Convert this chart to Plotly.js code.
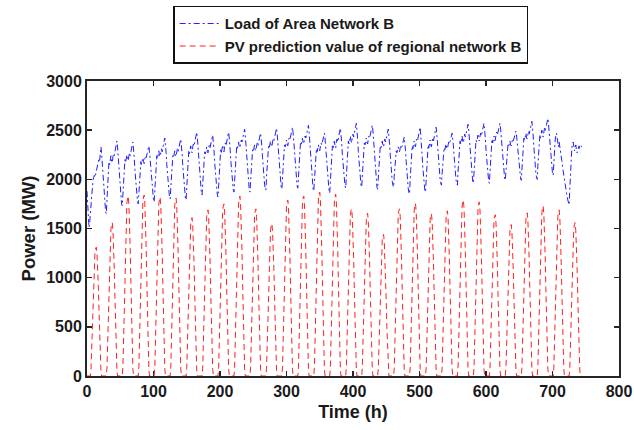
<!DOCTYPE html>
<html>
<head>
<meta charset="utf-8">
<script src="https://cdn.plot.ly/plotly-3.0.1.min.js"></script>
<style>html,body{margin:0;padding:0;background:#fff;}#chart{width:634px;height:430px;}</style>
</head>
<body>
<div id="chart"></div>
<script>
// Series names
const seriesNames = ["Load of Area Network B", "PV prediction value of regional network B"];

// Hourly load (MW), one row per day (hours 0..23), plus the final hour 744
const loadByDay = [
[1880,1700,1560,1510,1560,1650,1760,1860,1940,1990,2020,2040,2020,2050,2080,2100,2130,2180,2210,2190,2260,2330,2260,2160],
[2030,1910,1800,1720,1670,1650,1810,1980,2110,2180,2150,2210,2240,2180,2170,2230,2260,2240,2290,2320,2350,2390,2320,2230],
[2100,1980,1880,1800,1750,1730,1870,2020,2130,2200,2170,2220,2250,2200,2190,2240,2270,2240,2290,2320,2350,2380,2320,2220],
[2100,1990,1890,1810,1770,1750,1880,2020,2120,2180,2150,2200,2220,2180,2160,2210,2240,2220,2260,2280,2310,2340,2280,2200],
[2090,1990,1900,1830,1790,1770,1910,2060,2170,2240,2210,2260,2290,2240,2230,2280,2310,2280,2330,2360,2390,2420,2360,2270],
[2150,2040,1940,1860,1820,1800,1930,2080,2180,2240,2220,2260,2290,2240,2230,2280,2310,2280,2330,2350,2380,2410,2350,2260],
[2140,2030,1930,1850,1810,1790,1940,2100,2220,2290,2260,2310,2340,2290,2270,2330,2360,2340,2380,2410,2450,2480,2420,2320],
[2200,2080,1980,1900,1860,1840,1970,2120,2220,2280,2260,2300,2330,2280,2270,2320,2350,2320,2370,2390,2420,2450,2390,2290],
[2170,2060,1960,1880,1840,1820,1970,2120,2230,2300,2270,2320,2350,2300,2280,2340,2370,2340,2390,2410,2450,2480,2420,2330],
[2210,2100,2000,1930,1890,1870,2010,2160,2270,2330,2310,2360,2380,2330,2320,2370,2400,2380,2420,2450,2480,2510,2450,2350],
[2230,2110,2010,1930,1890,1870,2000,2140,2240,2300,2280,2330,2350,2300,2290,2340,2370,2340,2390,2410,2440,2470,2410,2330],
[2220,2110,2020,1950,1910,1890,2030,2170,2280,2340,2320,2370,2390,2340,2330,2380,2410,2390,2430,2460,2490,2520,2460,2370],
[2250,2140,2040,1960,1920,1900,2040,2180,2290,2350,2330,2380,2400,2350,2340,2390,2420,2400,2440,2470,2500,2530,2470,2380],
[2260,2150,2050,1970,1930,1910,2050,2200,2310,2370,2350,2400,2420,2370,2360,2410,2440,2420,2460,2490,2520,2550,2480,2380],
[2260,2140,2030,1950,1900,1880,2010,2150,2250,2310,2280,2330,2350,2310,2290,2340,2370,2350,2390,2410,2440,2470,2410,2320],
[2200,2090,1990,1920,1880,1860,2010,2160,2270,2340,2310,2360,2390,2340,2320,2380,2410,2380,2430,2450,2490,2520,2460,2370],
[2250,2140,2040,1970,1930,1910,2060,2210,2320,2390,2360,2410,2440,2390,2370,2430,2460,2430,2480,2500,2540,2570,2510,2410],
[2280,2170,2060,1990,1940,1920,2060,2200,2310,2370,2350,2400,2420,2370,2360,2410,2440,2420,2460,2490,2520,2550,2490,2390],
[2260,2150,2040,1970,1920,1900,2030,2180,2280,2340,2320,2360,2390,2340,2330,2380,2410,2380,2430,2450,2480,2510,2450,2360],
[2250,2140,2050,1980,1940,1920,2030,2150,2240,2290,2270,2310,2330,2290,2280,2320,2340,2320,2360,2380,2400,2430,2370,2290],
[2180,2070,1980,1910,1870,1850,2000,2160,2270,2340,2310,2370,2390,2340,2330,2380,2410,2390,2440,2460,2500,2530,2460,2370],
[2240,2120,2020,1940,1890,1870,2020,2170,2280,2350,2320,2370,2400,2350,2330,2390,2420,2390,2440,2460,2500,2530,2470,2380],
[2270,2160,2070,2000,1960,1940,2060,2180,2270,2320,2300,2340,2360,2320,2310,2350,2380,2360,2400,2420,2440,2470,2420,2340],
[2240,2140,2060,1990,1960,1940,2080,2220,2320,2390,2360,2410,2440,2390,2370,2420,2460,2430,2470,2500,2530,2560,2500,2410],
[2300,2190,2090,2020,1980,1960,2090,2240,2340,2400,2380,2420,2450,2400,2390,2440,2470,2440,2490,2510,2540,2570,2510,2420],
[2300,2190,2090,2020,1980,1960,2100,2230,2350,2410,2370,2430,2440,2390,2400,2450,2480,2450,2480,2520,2540,2570,2510,2430],
[2320,2210,2120,2050,2010,1990,2100,2220,2300,2350,2330,2370,2390,2350,2340,2380,2410,2390,2420,2440,2470,2490,2440,2370],
[2270,2180,2100,2040,2010,1990,2120,2260,2360,2420,2400,2450,2470,2420,2410,2460,2490,2460,2510,2530,2560,2590,2530,2440],
[2330,2220,2130,2060,2020,2000,2140,2280,2380,2450,2420,2470,2500,2450,2430,2480,2520,2490,2530,2560,2590,2620,2560,2480],
[2370,2260,2170,2100,2060,2040,2200,2330,2400,2440,2470,2420,2350,2330,2380,2340,2300,2250,2190,2130,2080,2020,1970,1920],
[1880,1850,1820,1790,1760,1740,1900,2080,2220,2310,2360,2380,2340,2290,2320,2350,2300,2270,2300,2330,2340,2310,2330,2340],
[2330]
];

// Hourly PV prediction (MW), one row per day (hours 0..23), plus the final hour 744
const pvByDay = [
[0,0,0,0,0,0,70,260,520,790,1000,1150,1260,1300,1310,1240,1110,920,680,430,210,50,0,0],
[0,0,0,0,0,0,80,310,620,940,1190,1370,1500,1540,1560,1480,1330,1090,810,510,250,60,0,0],
[0,0,0,0,0,0,90,370,730,1100,1390,1610,1760,1810,1830,1740,1560,1280,950,600,290,70,0,0],
[0,0,0,0,0,0,90,370,740,1100,1400,1620,1770,1820,1840,1750,1560,1290,960,610,290,70,0,0],
[0,0,0,0,0,0,90,360,730,1090,1380,1600,1750,1800,1820,1730,1550,1270,950,600,290,70,0,0],
[0,0,0,0,0,0,90,360,720,1090,1380,1590,1740,1790,1810,1720,1540,1270,940,600,290,70,0,0],
[0,0,0,0,0,0,80,320,640,970,1220,1420,1550,1590,1610,1530,1370,1130,840,530,260,60,0,0],
[0,0,0,0,0,0,80,340,680,1010,1280,1490,1620,1670,1690,1610,1440,1180,880,560,270,70,0,0],
[0,0,0,0,0,0,90,350,700,1050,1330,1540,1680,1730,1750,1660,1490,1230,910,580,280,70,0,0],
[0,0,0,0,0,0,90,370,730,1100,1390,1610,1750,1810,1830,1730,1550,1280,950,600,290,70,0,0],
[0,0,0,0,0,0,90,340,680,1020,1290,1500,1630,1680,1700,1620,1450,1190,880,560,270,70,0,0],
[0,0,0,0,0,0,80,310,620,930,1180,1360,1490,1530,1550,1470,1320,1090,810,510,250,60,0,0],
[0,0,0,0,0,0,90,360,720,1070,1360,1580,1720,1770,1790,1700,1520,1250,930,590,290,70,0,0],
[0,0,0,0,0,0,90,360,730,1100,1390,1610,1760,1810,1830,1740,1560,1280,950,600,290,70,0,0],
[0,0,0,0,0,0,90,370,750,1120,1420,1650,1800,1850,1870,1780,1590,1310,970,620,300,70,0,0],
[0,0,0,0,0,0,90,370,740,1110,1410,1630,1780,1830,1850,1760,1570,1300,960,610,300,70,0,0],
[0,0,0,0,0,0,90,340,680,1020,1290,1490,1630,1680,1700,1610,1440,1190,880,560,270,70,0,0],
[0,0,0,0,0,0,80,330,660,990,1260,1460,1590,1640,1655,1570,1410,1160,860,550,260,70,0,0],
[0,0,0,0,0,0,70,290,580,860,1090,1270,1380,1430,1440,1370,1220,1010,750,480,230,60,0,0],
[0,0,0,0,0,0,80,340,680,1020,1290,1500,1630,1680,1700,1620,1450,1190,880,560,270,70,0,0],
[0,0,0,0,0,0,90,350,700,1050,1330,1540,1680,1740,1755,1670,1490,1230,910,580,280,70,0,0],
[0,0,0,0,0,0,80,330,660,990,1260,1450,1590,1640,1650,1570,1400,1160,860,540,260,70,0,0],
[0,0,0,0,0,0,80,340,670,1010,1280,1480,1610,1660,1680,1600,1430,1180,870,550,270,70,0,0],
[0,0,0,0,0,0,90,360,720,1070,1360,1580,1720,1770,1790,1700,1520,1250,930,590,290,70,0,0],
[0,0,0,0,0,0,90,350,710,1060,1350,1560,1700,1750,1770,1680,1500,1240,920,580,280,70,0,0],
[0,0,0,0,0,0,80,330,660,980,1250,1440,1570,1620,1640,1560,1390,1150,850,540,260,70,0,0],
[0,0,0,0,0,0,80,310,620,920,1170,1360,1480,1520,1540,1460,1310,1080,800,510,250,60,0,0],
[0,0,0,0,0,0,80,330,660,1000,1260,1460,1590,1640,1660,1580,1410,1160,860,550,270,70,0,0],
[0,0,0,0,0,0,90,350,690,1040,1310,1520,1660,1710,1730,1640,1470,1210,900,570,280,70,0,0],
[0,0,0,0,0,0,80,340,680,1010,1280,1490,1620,1670,1690,1610,1440,1180,880,560,270,70,0,0],
[0,0,0,0,0,0,80,310,620,940,1190,1370,1500,1540,1560,1480,1330,1090,810,510,250,60,0,0],
[0]
];

// Axis ticks
const xTicks = [0,100,200,300,400,500,600,700,800];
const yTicks = [0,500,1000,1500,2000,2500,3000];

const loadValues = loadByDay.flat();
const pvValues = pvByDay.flat();
const hours = loadValues.map((_, i) => i);

const fontFam = '"Liberation Sans", Arial, sans-serif';
const txtColor = '#1a1a1a';
const axCommon = {
  showgrid: false, zeroline: false, showline: true, mirror: 'ticks',
  linecolor: '#262626', linewidth: 2, ticks: 'inside', ticklen: 5,
  tickwidth: 1.5, tickcolor: '#262626', automargin: false,
  tickfont: {family: fontFam, size: 16, color: txtColor, weight: 'bold'}
};

const traces = [
  {x: hours, y: loadValues, type: 'scatter', mode: 'lines', name: seriesNames[0],
   line: {color: '#1f1fff', width: 1, dash: '6px,3px,2px,3px'}},
  {x: hours, y: pvValues, type: 'scatter', mode: 'lines', name: seriesNames[1],
   line: {color: '#ff2020', width: 1, dash: '6px,4px'}}
];

const layout = {
  width: 634, height: 430,
  margin: {l: 87, r: 15, t: 81, b: 54, autoexpand: false},
  paper_bgcolor: '#fff', plot_bgcolor: '#fff',
  showlegend: true,
  legend: {x: 0.162, y: 1.255, xanchor: 'left', yanchor: 'top',
    bordercolor: '#111', borderwidth: 1.5, bgcolor: '#fff',
    font: {family: fontFam, size: 15, color: txtColor, weight: 'bold'},
    tracegroupgap: 0, itemwidth: 40},
  xaxis: Object.assign({}, axCommon, {range: [0, 800], tickvals: xTicks,
    ticktext: xTicks.map(String),
    title: {text: 'Time (h)', standoff: 6, font: {family: fontFam, size: 18, color: txtColor, weight: 'bold'}}}),
  yaxis: Object.assign({}, axCommon, {range: [0, 3000], tickvals: yTicks,
    ticktext: yTicks.map(String),
    title: {text: 'Power (MW)', standoff: 6, font: {family: fontFam, size: 18.5, color: txtColor, weight: 'bold'}}})
};

Plotly.newPlot('chart', traces, layout, {displayModeBar: false, staticPlot: true});
</script>
</body>
</html>
